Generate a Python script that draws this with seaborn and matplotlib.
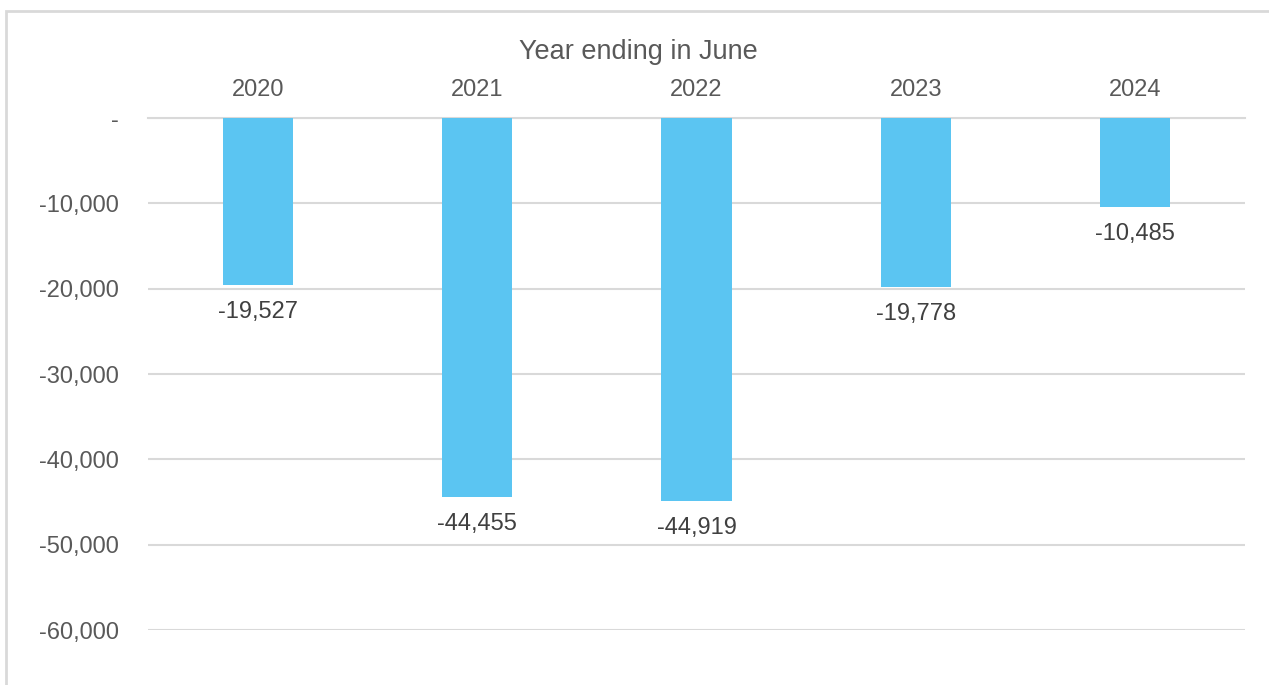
import matplotlib
matplotlib.use('Agg')
import matplotlib.pyplot as plt
import matplotlib.patches as patches
import pandas as pd
import seaborn as sns

years = ['2020', '2021', '2022', '2023', '2024']
values = [-19527, -44455, -44919, -19778, -10485]
y_ticks = [0, -10000, -20000, -30000, -40000, -50000, -60000]

bar_color = '#5BC5F2'
text_color = '#595959'
label_color = '#404040'
grid_color = '#D9D9D9'

sns.set_style('white')
plt.rcParams['font.family'] = ['Liberation Sans', 'DejaVu Sans']

df = pd.DataFrame({'year': years, 'value': values})

fig = plt.figure(figsize=(12.69, 6.85), dpi=100)
ax = fig.add_axes([148 / 1269, 1 - 630 / 685, 1097 / 1269, 512 / 685])

sns.barplot(data=df, x='year', y='value', color=bar_color, saturation=1,
            width=0.32, linewidth=0, ax=ax, zorder=3)

ax.set_xlim(-0.5, 4.5)
ax.set_ylim(-60000, 0)
ax.set_yticks(y_ticks)
ax.set_yticklabels(['-' if v == 0 else f'-{abs(v):,}' for v in y_ticks])
ax.yaxis.grid(True, color=grid_color, linewidth=1.5, zorder=0)
ax.set_axisbelow(True)
for s in ax.spines.values():
    s.set_visible(False)
ax.spines['top'].set_visible(True)
ax.spines['top'].set_color(grid_color)
ax.spines['top'].set_linewidth(1.5)

ax.xaxis.tick_top()
ax.tick_params(axis='x', length=0, pad=12.5, labelsize=17, labelcolor=text_color)
ax.tick_params(axis='y', length=0, pad=21, labelsize=17, labelcolor=text_color)
ax.set_xlabel('')
ax.set_ylabel('')

for i, v in enumerate(values):
    ax.annotate(f'-{abs(v):,}', xy=(i, v), xytext=(0, -11.5),
                textcoords='offset points', ha='center', va='top',
                fontsize=17, color=label_color)

fig.text(638 / 1269, 1 - 52 / 685, 'Year ending in June', ha='center',
         va='center', fontsize=19.5, color=text_color)

fig.patches.append(patches.Rectangle((6 / 1269, -0.1), 1.2, 1 - 11 / 685 + 0.1,
                                     transform=fig.transFigure, fill=False,
                                     edgecolor=grid_color, linewidth=2))

fig.savefig('out.png', dpi=100)
